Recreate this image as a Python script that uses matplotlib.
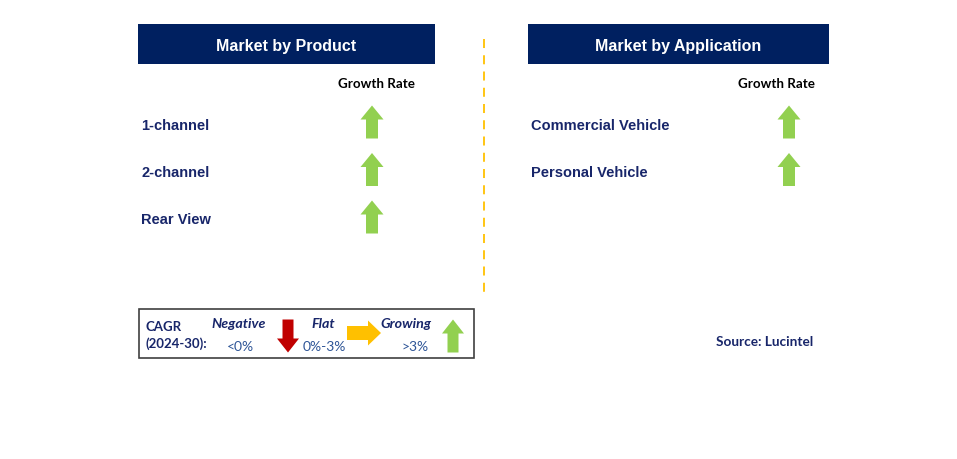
import matplotlib
matplotlib.use("Agg")
import matplotlib.pyplot as plt
from matplotlib.patches import Rectangle, Polygon

NAVY, TXT, BLUE = "#002060", "#18266a", "#2e5597"
GREEN, RED, YELLOW = "#92d050", "#c00000", "#ffc000"
ARIAL = ["Liberation Sans", "DejaVu Sans"]
CALIBRI = ["Lato", "DejaVu Sans"]

# data
panel_titles = ["Market by Product", "Market by Application"]
product_segments = ["1-channel", "2-channel", "Rear View"]
product_growth = ["up", "up", "up"]
application_segments = ["Commercial Vehicle", "Personal Vehicle"]
application_growth = ["up", "up"]
legend_labels = ["Negative", "Flat", "Growing"]
legend_ranges = ["<0%", "0%-3%", ">3%"]
legend_dirs = ["down", "right", "up"]
cagr_label = "CAGR\n(2024-30):"
source = "Source: Lucintel"

ARROW_COLOR = {"up": GREEN, "down": RED, "right": YELLOW}


def arrow(ax, cx, cy, direction, length=33, shaft=12, head=23, head_len=14):
    # build an upward arrow centred at origin, then rotate
    h = length / 2
    pts = [(-shaft / 2, h), (shaft / 2, h), (shaft / 2, -h + head_len), (head / 2, -h + head_len),
           (0, -h), (-head / 2, -h + head_len), (-shaft / 2, -h + head_len)]
    # y axis is inverted (pixel coords): negative y = up
    if direction == "down":
        pts = [(x, -y) for x, y in pts]
    elif direction == "right":
        pts = [(-y, x) for x, y in pts]
    ax.add_patch(Polygon([(cx + x, cy + y) for x, y in pts], closed=True,
                         fc=ARROW_COLOR[direction], ec="none"))


fig = plt.figure(figsize=(9.57, 4.60), dpi=100)
ax = fig.add_axes([0, 0, 1, 1])
ax.set_xlim(0, 957); ax.set_ylim(460, 0); ax.axis("off")

# (box x, box width, label x, arrow x, "Growth Rate" x)
panels = [(138, 297, 141, 372, 376, product_segments, product_growth),
          (528, 301, 531, 789, 776, application_segments, application_growth)]
for (x0, w, tx, ax_x, gr_x, segs, growth), title in zip(panels, panel_titles):
    ax.add_patch(Rectangle((x0, 25), w, 40, fc=NAVY, ec="none"))
    ax.text(x0 + w / 2, 46, title, color="white", fontsize=11.5, fontweight="bold",
            family=ARIAL, ha="center", va="center")
    ax.text(gr_x, 84.5, "Growth Rate", fontsize=9.6, fontweight="bold", family=CALIBRI,
            ha="center", va="center", color="black")
    for i, (s, g) in enumerate(zip(segs, growth)):
        y = 124 + i * 47.5
        ax.text(tx, y + 1.5, s, fontsize=10.5, fontweight="bold", family=ARIAL, color=TXT,
                ha="left", va="center")
        arrow(ax, ax_x, y - 1, g)

# divider
ax.plot([484, 484], [40, 298], color=YELLOW, lw=1.3, ls=(0, (5, 4)))

# legend box
ax.add_patch(Rectangle((139, 310), 335, 49, fc="white", ec="#404040", lw=1.2))
ax.text(145, 335.5, cagr_label, fontsize=9.5, fontweight="bold", family=CALIBRI, color=TXT,
        ha="left", va="center", linespacing=1.35)
lab_x = [239, 323, 406]
rng_x = [240, 324, 415]
arr_x = [288, 364, 453]
for lx, rx, axx, lab, rng, d in zip(lab_x, rng_x, arr_x, legend_labels, legend_ranges, legend_dirs):
    ax.text(lx, 324.5, lab, fontsize=10.3, fontweight="bold", style="italic", family=CALIBRI,
            color=TXT, ha="center", va="center")
    ax.text(rx, 347.5, rng, fontsize=10, family=CALIBRI, color=BLUE, ha="center", va="center")
    if d == "right":
        arrow(ax, axx, 334, d, length=34, shaft=14, head=25, head_len=13)
    else:
        arrow(ax, axx, 337, d, length=33, shaft=11, head=22, head_len=14)

ax.text(765, 342.5, source, fontsize=9.8, fontweight="bold", family=CALIBRI, color=TXT,
        ha="center", va="center")

fig.savefig("out.png", dpi=100)
